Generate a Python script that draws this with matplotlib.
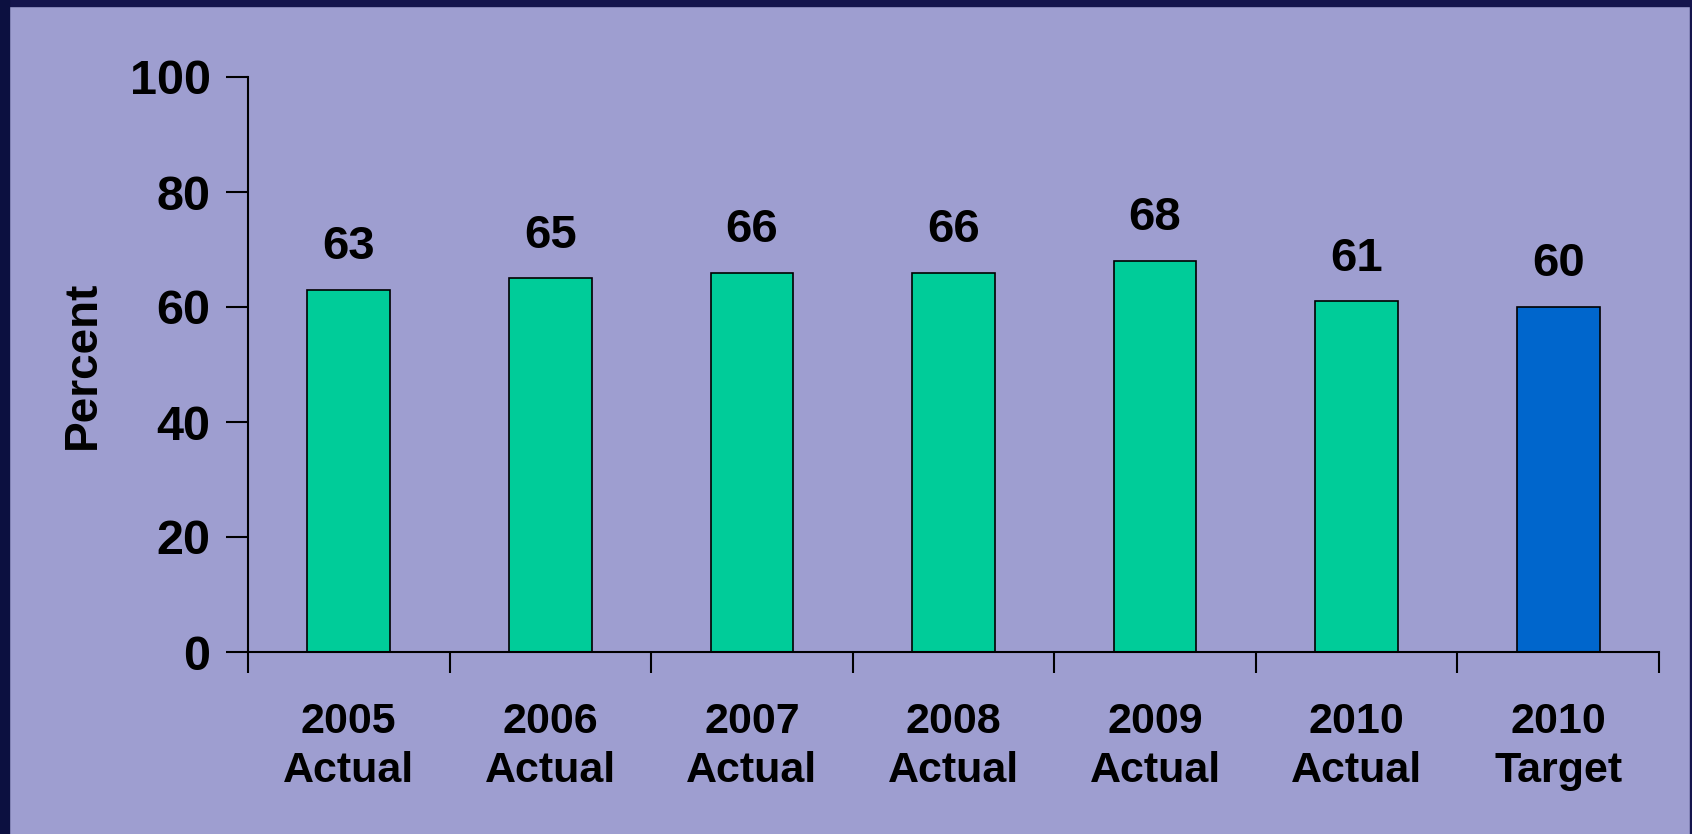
import matplotlib.pyplot as plt
from matplotlib.patches import Rectangle
from matplotlib.ticker import FixedLocator

# ---------------------------------------------------------------------------
# Data
# ---------------------------------------------------------------------------
YEARS   = ["2005", "2006", "2007", "2008", "2009", "2010", "2010"]
KINDS   = ["Actual", "Actual", "Actual", "Actual", "Actual", "Actual", "Target"]
VALUES  = [63, 65, 66, 66, 68, 61, 60]
Y_TICKS = [0, 20, 40, 60, 80, 100]

BG       = "#9e9ed0"
FRAME    = "#15154d"
ACTUAL_C = "#00cc99"
TARGET_C = "#0066cc"

plt.rcParams["font.family"] = ["Liberation Sans", "DejaVu Sans"]
plt.rcParams["font.weight"] = "bold"

fig = plt.figure(figsize=(16.92, 8.34), dpi=100, facecolor=BG)

# dark frame on the top, left and right edges
W, H = 1692, 834
fig.patches.append(Rectangle((0, 1 - 6 / H), 1, 6 / H, transform=fig.transFigure,
                             color=FRAME, zorder=0))
fig.patches.append(Rectangle((0, 0), 9 / W, 1, transform=fig.transFigure,
                             color="#0c1040", zorder=0))
fig.patches.append(Rectangle((1 - 2 / W, 0), 2 / W, 1, transform=fig.transFigure,
                             color=FRAME, zorder=0))

ax = fig.add_axes([248 / W, 1 - 652 / H, 1411 / W, 575 / H])
ax.set_facecolor(BG)

x = list(range(len(VALUES)))
colors = [TARGET_C if k == "Target" else ACTUAL_C for k in KINDS]
bars = ax.bar(x, VALUES, width=0.41, color=colors, edgecolor="black", linewidth=1.2)

for b, v in zip(bars, VALUES):
    ax.text(b.get_x() + b.get_width() / 2, v + 3.6, str(v), ha="center", va="bottom",
            fontsize=34, fontweight="bold")

ax.set_xlim(-0.5, len(VALUES) - 0.5)
ax.set_ylim(0, 100)
ax.set_yticks(Y_TICKS)
ax.tick_params(axis="y", length=16, width=1.5, pad=11, labelsize=35)

ax.set_xticks(x)
ax.set_xticklabels([f"{y}\n{k}" for y, k in zip(YEARS, KINDS)], fontsize=31,
                   fontweight="bold", linespacing=1.3)
ax.tick_params(axis="x", which="major", length=0, pad=36)
ax.xaxis.set_minor_locator(FixedLocator([i - 0.5 for i in range(len(VALUES) + 1)]))
ax.tick_params(axis="x", which="minor", length=15, width=1.5)

ax.set_ylabel("Percent", fontsize=33, fontweight="bold", labelpad=18)

for side in ("top", "right"):
    ax.spines[side].set_visible(False)
for side in ("left", "bottom"):
    ax.spines[side].set_linewidth(1.5)

fig.savefig("out.png", dpi=100, facecolor=BG)
